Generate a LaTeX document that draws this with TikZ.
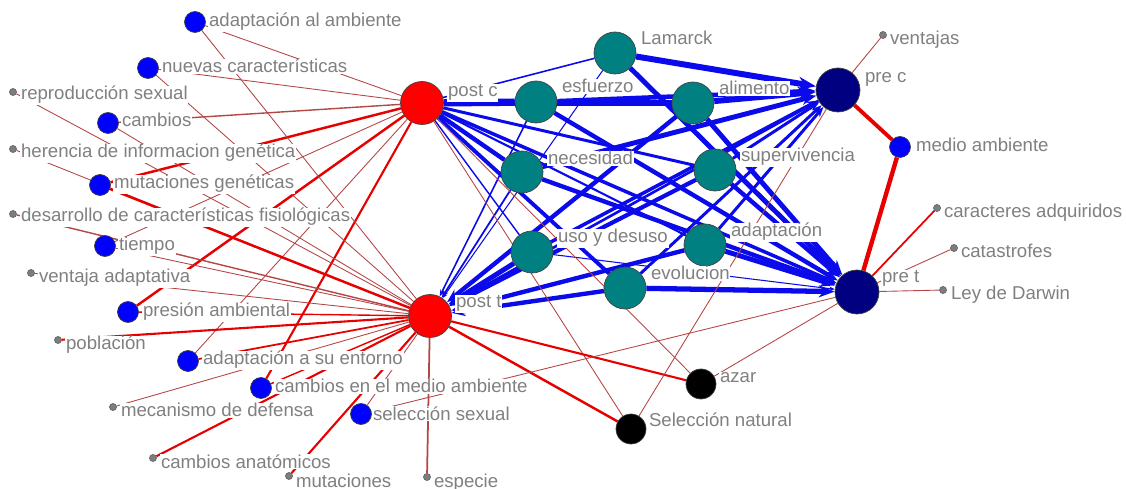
\documentclass[tikz,border=0pt]{standalone}
\usepackage{fontspec}
\setmainfont{Liberation Sans}
\usepackage{xcolor}
\usetikzlibrary{arrows.meta,backgrounds}
\definecolor{postred}{RGB}{255, 0, 0}
\definecolor{conceptteal}{RGB}{0, 128, 128}
\definecolor{prenavy}{RGB}{0, 0, 128}
\definecolor{pairblue}{RGB}{0, 0, 255}
\definecolor{dotgray}{RGB}{125, 125, 125}
\definecolor{labelgray}{RGB}{128, 128, 128}
\definecolor{edgeblue}{RGB}{10, 10, 235}
\definecolor{edgered}{RGB}{230, 0, 0}
\definecolor{thinred}{RGB}{180, 70, 70}

\begin{document}
\begin{tikzpicture}[
    x=0.02cm, y=-0.02cm,
    postnode/.style={circle, draw=black!75, fill=postred, minimum size=0.86cm, inner sep=0},
    prenode/.style={circle, draw=black!75, fill=prenavy, minimum size=0.88cm, inner sep=0},
    concept/.style={circle, draw=black!75, fill=conceptteal, minimum size=0.84cm, inner sep=0},
    triple/.style={circle, draw=black!75, fill=black, minimum size=0.6cm, inner sep=0},
    pair/.style={circle, draw=black!75, fill=pairblue, minimum size=0.42cm, inner sep=0},
    single/.style={circle, draw=black!60, fill=dotgray, minimum size=0.14cm, inner sep=0},
    lbl/.style={anchor=base west, text=labelgray, fill=white, inner sep=0.4pt, font=\fontsize{10.6}{12}\selectfont},
    blueline/.style={draw=edgeblue},
    redline/.style={draw=edgered},
    thinline/.style={draw=thinred, line width=0.5pt},
    arrow/.style={-{Stealth[scale=0.55]}}
]
\useasboundingbox (0,0) rectangle (1126,489);

% Respondent groups
\node[postnode] (postc) at (422,103) {};
\node[postnode] (postt) at (430,316) {};
\node[prenode] (prec) at (838,90) {};
\node[prenode] (pret) at (857,292) {};

% Shared concepts
\node[concept] (lamarck) at (615,53) {};
\node[concept] (esfuerzo) at (536,102) {};
\node[concept] (alimento) at (693,103) {};
\node[concept] (necesidad) at (522,172) {};
\node[concept] (supervivencia) at (715,170) {};
\node[concept] (usodesuso) at (532,252) {};
\node[concept] (adaptacion) at (705,245) {};
\node[concept] (evolucion) at (625,288) {};
\node[triple] (azar) at (701,384) {};
\node[triple] (selnatural) at (631,429) {};

% Concepts named twice
\node[pair] (adapambiente) at (195,22) {};
\node[pair] (nuevascar) at (148,68) {};
\node[pair] (cambios) at (108,123) {};
\node[pair] (mutgeneticas) at (100,185) {};
\node[pair] (tiempo) at (105,246) {};
\node[pair] (presion) at (128,312) {};
\node[pair] (adapentorno) at (188,361) {};
\node[pair] (cambiosmedio) at (261,388) {};
\node[pair] (selsexual) at (361,414) {};
\node[pair] (medioamb) at (900,147) {};

% Concepts named once
\node[single] (reproduccion) at (13,92) {};
\node[single] (herencia) at (13,149) {};
\node[single] (desarrollo) at (13,214) {};
\node[single] (ventaja) at (31,273) {};
\node[single] (poblacion) at (58,340) {};
\node[single] (mecanismo) at (113,407) {};
\node[single] (anatomicos) at (153,458) {};
\node[single] (mutaciones) at (289,476) {};
\node[single] (especie) at (427,477) {};
\node[single] (ventajas) at (883,35) {};
\node[single] (caracteres) at (937,208) {};
\node[single] (catastrofes) at (954,248) {};
\node[single] (leydarwin) at (943,290) {};

\begin{scope}[on background layer]
% post c to concepts
\draw[blueline, line width=0.9pt] (postc) -- (lamarck);
\draw[blueline, line width=4.2pt] (postc) -- (esfuerzo);
\draw[blueline, line width=3.4pt] (postc) -- (alimento);
\draw[blueline, line width=2.5pt] (postc) -- (necesidad);
\draw[blueline, line width=1.7pt] (postc) -- (supervivencia);
\draw[blueline, line width=0.8pt] (postc) -- (usodesuso);
\draw[blueline, line width=1.2pt] (postc) -- (adaptacion);
\draw[blueline, line width=2.2pt] (postc) -- (evolucion);
\draw[blueline, arrow, line width=2pt] (postc) -- (pret);

% concepts to post t
\draw[blueline, arrow, line width=0.6pt] (lamarck) -- (postt);
\draw[blueline, arrow, line width=0.9pt] (esfuerzo) -- (postt);
\draw[blueline, arrow, line width=1pt] (necesidad) -- (postt);
\draw[blueline, arrow, line width=2.8pt] (usodesuso) -- (postt);
\draw[blueline, arrow, line width=2.4pt] (supervivencia) -- (postt);
\draw[blueline, arrow, line width=2.5pt] (alimento) -- (postt);
\draw[blueline, arrow, line width=2.5pt] (adaptacion) -- (postt);
\draw[blueline, arrow, line width=2.5pt] (evolucion) -- (postt);
\draw[blueline, arrow, line width=1.5pt] (prec) -- (postt);

% concepts to pre c
\draw[blueline, arrow, line width=3.4pt] (lamarck) -- (prec);
\draw[blueline, arrow, line width=2.6pt] (esfuerzo) -- (prec);
\draw[blueline, arrow, line width=3.4pt] (alimento) -- (prec);
\draw[blueline, arrow, line width=2.8pt] (necesidad) -- (prec);
\draw[blueline, arrow, line width=1.7pt] (supervivencia) -- (prec);
\draw[blueline, arrow, line width=2pt] (usodesuso) -- (prec);
\draw[blueline, arrow, line width=1.7pt] (adaptacion) -- (prec);
\draw[blueline, arrow, line width=1.7pt] (evolucion) -- (prec);

% concepts to pre t
\draw[blueline, arrow, line width=2.8pt] (lamarck) -- (pret);
\draw[blueline, arrow, line width=2.5pt] (esfuerzo) -- (pret);
\draw[blueline, arrow, line width=2.8pt] (alimento) -- (pret);
\draw[blueline, arrow, line width=2.5pt] (necesidad) -- (pret);
\draw[blueline, arrow, line width=2.5pt] (supervivencia) -- (pret);
\draw[blueline, arrow, line width=0.6pt] (usodesuso) -- (pret);
\draw[blueline, arrow, line width=2.8pt] (adaptacion) -- (pret);
\draw[blueline, arrow, line width=3pt] (evolucion) -- (pret);

% post c to the rest
\draw[thinline] (postc) -- (adapambiente);
\draw[thinline] (postc) -- (nuevascar);
\draw[thinline, line width=0.8pt] (postc) -- (cambios);
\draw[redline, line width=1.4pt] (postc) -- (mutgeneticas);
\draw[thinline] (postc) -- (tiempo);
\draw[redline, line width=1.4pt] (postc) -- (presion);
\draw[thinline] (postc) -- (adapentorno);
\draw[redline, line width=1.2pt] (postc) -- (cambiosmedio);
\draw[thinline] (postc) -- (azar);
\draw[thinline] (postc) -- (selnatural);

% post t to the rest
\draw[thinline] (postt) -- (adapambiente);
\draw[thinline] (postt) -- (nuevascar);
\draw[thinline] (postt) -- (cambios);
\draw[thinline] (postt) -- (reproduccion);
\draw[thinline] (postt) -- (herencia);
\draw[redline, line width=1.4pt] (postt) -- (mutgeneticas);
\draw[thinline, line width=0.8pt] (postt) -- (desarrollo);
\draw[thinline] (postt) -- (tiempo);
\draw[thinline] (postt) -- (ventaja);
\draw[redline, line width=0.8pt] (postt) -- (presion);
\draw[redline, line width=1.2pt] (postt) -- (poblacion);
\draw[redline, line width=1pt] (postt) -- (adapentorno);
\draw[redline, line width=0.8pt] (postt) -- (cambiosmedio);
\draw[thinline] (postt) -- (mecanismo);
\draw[redline, line width=1.2pt] (postt) -- (anatomicos);
\draw[redline, line width=1.2pt] (postt) -- (mutaciones);
\draw[thinline] (postt) -- (selsexual);
\draw[thinline, line width=1pt] (postt) -- (especie);
\draw[redline, line width=1.2pt] (postt) -- (azar);
\draw[redline, line width=1.4pt] (postt) -- (selnatural);

% pre c and pre t to the rest
\draw[thinline] (prec) -- (ventajas);
\draw[redline, line width=2.2pt] (prec) -- (medioamb);
\draw[thinline] (prec) -- (selnatural);
\draw[redline, line width=2.5pt] (pret) -- (medioamb);
\draw[redline, line width=1pt] (pret) -- (caracteres);
\draw[thinline] (pret) -- (catastrofes);
\draw[thinline] (pret) -- (leydarwin);
\draw[thinline] (pret) -- (azar);
\draw[thinline] (pret) -- (selsexual);
\end{scope}

% Labels
\node[lbl] (postc-l) at (447,97) {post c};
\node[lbl] (postt-l) at (455,308) {post t};
\node[lbl] (prec-l) at (864,83) {pre c};
\node[lbl] (pret-l) at (881,283) {pre t};
\node[lbl] (lamarck-l) at (640,45) {Lamarck};
\node[lbl] (esfuerzo-l) at (561,93) {esfuerzo};
\node[lbl] (alimento-l) at (718,95) {alimento};
\node[lbl] (necesidad-l) at (547,165) {necesidad};
\node[lbl] (supervivencia-l) at (740,162) {supervivencia};
\node[lbl] (usodesuso-l) at (557,243) {uso y desuso};
\node[lbl] (adaptacion-l) at (730,237) {adaptación};
\node[lbl] (evolucion-l) at (650,280) {evolucion};
\node[lbl] (azar-l) at (719,383) {azar};
\node[lbl] (selnatural-l) at (648,427) {Selección natural};
\node[lbl] (adapambiente-l) at (208,27) {adaptación al ambiente};
\node[lbl] (nuevascar-l) at (161,73) {nuevas características};
\node[lbl] (cambios-l) at (121,127) {cambios};
\node[lbl] (mutgeneticas-l) at (113,189) {mutaciones genéticas};
\node[lbl] (tiempo-l) at (118,251) {tiempo};
\node[lbl] (presion-l) at (142,317) {presión ambiental};
\node[lbl] (adapentorno-l) at (202,365) {adaptación a su entorno};
\node[lbl] (cambiosmedio-l) at (274,393) {cambios en el medio ambiente};
\node[lbl] (selsexual-l) at (372,420) {selección sexual};
\node[lbl] (medioamb-l) at (915,152) {medio ambiente};
\node[lbl] (reproduccion-l) at (20,100) {reproducción sexual};
\node[lbl] (herencia-l) at (20,158) {herencia de informacion genética};
\node[lbl] (desarrollo-l) at (20,222) {desarrollo de características fisiológicas};
\node[lbl] (ventaja-l) at (38,283) {ventaja adaptativa};
\node[lbl] (poblacion-l) at (65,350) {población};
\node[lbl] (mecanismo-l) at (120,417) {mecanismo de defensa};
\node[lbl] (anatomicos-l) at (160,468) {cambios anatómicos};
\node[lbl] (mutaciones-l) at (295,487) {mutaciones};
\node[lbl] (especie-l) at (433,487) {especie};
\node[lbl] (ventajas-l) at (889,45) {ventajas};
\node[lbl] (caracteres-l) at (943,218) {caracteres adquiridos};
\node[lbl] (catastrofes-l) at (960,258) {catastrofes};
\node[lbl] (leydarwin-l) at (950,300) {Ley de Darwin};

\end{tikzpicture}
\end{document}
